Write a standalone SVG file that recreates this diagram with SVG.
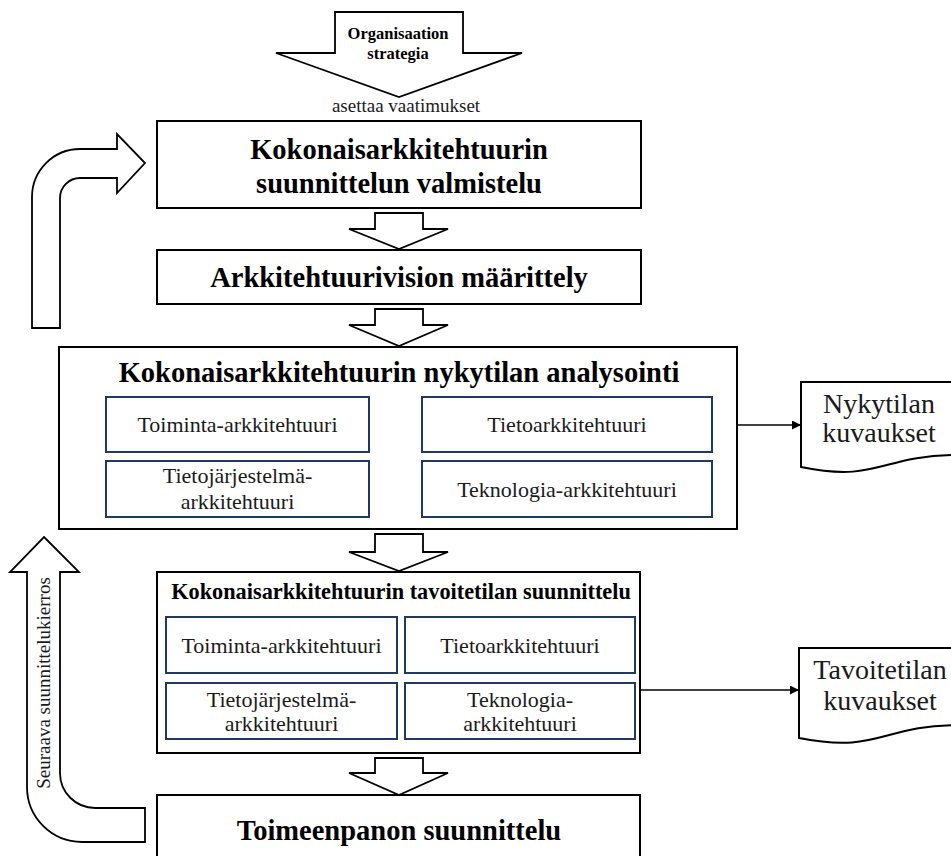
<svg xmlns="http://www.w3.org/2000/svg" width="951" height="856" viewBox="0 0 951 856" font-family="'Liberation Serif', 'DejaVu Serif', serif">
  <style>
    .box { fill: #fff; stroke: #000; stroke-width: 2; }
    .sub { fill: #fff; stroke: #1f3864; stroke-width: 2; }
    .arrow { fill: #fff; stroke: #000; stroke-width: 1.8; stroke-linejoin: miter; }
    .doc { fill: #fff; stroke: #000; stroke-width: 2; }
    .link { fill: none; stroke: #000; stroke-width: 1.6; }
    text { font-family: 'Liberation Serif', 'DejaVu Serif', serif; fill: #000; text-anchor: middle; }
    .h1 { font-size: 28.5px; font-weight: bold; }
    .h2 { font-size: 22.3px; font-weight: bold; }
    .t { font-size: 22px; fill: #1a1a1a; }
    .d { font-size: 28px; fill: #1a1a1a; }
    .s { font-size: 16.5px; font-weight: bold; }
    .r { font-size: 19px; fill: #1a1a1a; }
    .v { font-size: 19px; fill: #1a1a1a; }
  </style>
  <defs>
    <marker id="head" viewBox="0 0 10 10" refX="10" refY="5" markerWidth="9" markerHeight="9" markerUnits="userSpaceOnUse" orient="auto">
      <path d="M0,0 L10,5 L0,10 Z" fill="#000"/>
    </marker>
  </defs>

  <!-- strategy input arrow -->
  <g id="strategia">
    <path class="arrow" d="M335,12 H463 V53 H522 L399,97 L276,53 H335 Z"/>
    <text class="s" x="398" y="39">Organisaation</text>
    <text class="s" x="398" y="59">strategia</text>
    <text class="r" x="406" y="112">asettaa vaatimukset</text>
  </g>

  <!-- process step arrows, cycle arrows and output links -->
  <g id="connectors">
    <path class="arrow" d="M375,213 H423 V229 H448 L399,249 L349,229 H375 Z"/>
    <path class="arrow" d="M375,309 H423 V325 H448 L399,346 L349,325 H375 Z"/>
    <path class="arrow" d="M375,534 H423 V552 H448 L399,571 L349,552 H375 Z"/>
    <path class="arrow" d="M375,758 H423 V773 H448 L399,795 L349,773 H375 Z"/>
    <!-- return to preparation -->
    <path class="arrow" d="M32,328 V197 A48,48 0 0 1 80,149 H117 V134 L145,163 L117,193 V178 H80 A20,20 0 0 0 60,198 V328 Z"/>
    <!-- next planning round -->
    <path class="arrow" d="M44,537 L79,572 H60 V773 A35,35 0 0 0 95,808 H145 V842 H82 A55,55 0 0 1 27,787 V572 H10 Z"/>
    <line class="link" x1="737" y1="425" x2="801" y2="425" marker-end="url(#head)"/>
    <line class="link" x1="640" y1="690" x2="799" y2="690" marker-end="url(#head)"/>
  </g>

  <g id="kierros">
    <text class="v" transform="translate(50,683) rotate(-90)">Seuraava suunnittelukierros</text>
  </g>

  <g id="valmistelu">
    <rect class="box" x="157" y="121" width="484" height="87"/>
    <text class="h1" x="399" y="159">Kokonaisarkkitehtuurin</text>
    <text class="h1" x="399" y="193">suunnittelun valmistelu</text>
  </g>

  <g id="visio">
    <rect class="box" x="157" y="250" width="484" height="54"/>
    <text class="h1" x="399" y="287">Arkkitehtuurivision määrittely</text>
  </g>

  <g id="nykytila">
    <rect class="box" x="59" y="347" width="678" height="182"/>
    <text class="h1" x="399" y="382">Kokonaisarkkitehtuurin nykytilan analysointi</text>
    <rect class="sub" x="106" y="397" width="263" height="55"/>
    <text class="t" x="237.5" y="432">Toiminta-arkkitehtuuri</text>
    <rect class="sub" x="422" y="397" width="290" height="55"/>
    <text class="t" x="567" y="432">Tietoarkkitehtuuri</text>
    <rect class="sub" x="106" y="461" width="263" height="56"/>
    <text class="t" x="237.5" y="483">Tietojärjestelmä-</text>
    <text class="t" x="237.5" y="509">arkkitehtuuri</text>
    <rect class="sub" x="422" y="461" width="290" height="56"/>
    <text class="t" x="567" y="497">Teknologia-arkkitehtuuri</text>
  </g>

  <g id="tavoitetila">
    <rect class="box" x="157" y="572" width="483" height="181"/>
    <text class="h2" x="401" y="599">Kokonaisarkkitehtuurin tavoitetilan suunnittelu</text>
    <rect class="sub" x="166" y="617" width="231" height="56"/>
    <text class="t" x="281.5" y="653">Toiminta-arkkitehtuuri</text>
    <rect class="sub" x="405" y="617" width="230" height="56"/>
    <text class="t" x="520" y="653">Tietoarkkitehtuuri</text>
    <rect class="sub" x="166" y="683" width="231" height="56"/>
    <text class="t" x="281.5" y="707">Tietojärjestelmä-</text>
    <text class="t" x="281.5" y="731">arkkitehtuuri</text>
    <rect class="sub" x="405" y="683" width="230" height="56"/>
    <text class="t" x="520" y="707">Teknologia-</text>
    <text class="t" x="520" y="731">arkkitehtuuri</text>
  </g>

  <g id="toimeenpano">
    <rect class="box" x="157" y="795" width="483" height="80"/>
    <text class="h1" x="399" y="840">Toimeenpanon suunnittelu</text>
  </g>

  <g id="nykytilan-kuvaukset">
    <path class="doc" d="M801,382 H958 V455 C879.5,455 879.5,483 801,467 Z"/>
    <text class="d" x="879" y="413">Nykytilan</text>
    <text class="d" x="879" y="442">kuvaukset</text>
  </g>

  <g id="tavoitetilan-kuvaukset">
    <path class="doc" d="M799,648 H961 V725 C880,725 880,754 799,738 Z"/>
    <text class="d" x="880" y="679">Tavoitetilan</text>
    <text class="d" x="880" y="710">kuvaukset</text>
  </g>
</svg>
